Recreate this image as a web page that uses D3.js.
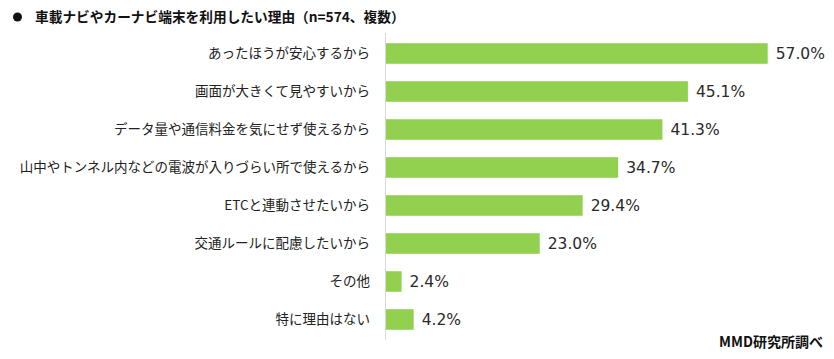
<!DOCTYPE html>
<html><head><meta charset="utf-8">
<script src="https://cdn.jsdelivr.net/npm/d3@7"></script>
<style>body{margin:0;background:#fff}svg{display:block}</style>
</head><body>
<script>
const categories = ["あったほうが安心するから","画面が大きくて見やすいから","データ量や通信料金を気にせず使えるから","山中やトンネル内などの電波が入りづらい所で使えるから","ETCと連動させたいから","交通ルールに配慮したいから","その他","特に理由はない"];
const values = [57.0,45.1,41.3,34.7,29.4,23.0,2.4,4.2];
const title = "車載ナビやカーナビ端末を利用したい理由（n=574、複数）";
const source = "MMD研究所調べ";

const W=834,H=359;
const svg=d3.select("body").append("svg").attr("width",W).attr("height",H);
const font="'Noto Sans CJK JP','Noto Sans',sans-serif";
const x0=385.5;
const x=d3.scaleLinear().domain([0,57]).range([x0,767.7]);
const y=d3.scaleBand().domain(categories).range([34.5,338.5]).paddingInner(0.46).paddingOuter(0.23);

svg.append("circle").attr("cx",17.5).attr("cy",17).attr("r",4.5).attr("fill","#111");
svg.append("text").attr("x",35).attr("y",22).attr("font-family",font).attr("font-weight","bold").attr("font-size",13.7).attr("fill","#111").text(title);

svg.selectAll("rect.bar").data(values).enter().append("rect").attr("class","bar")
 .attr("x",x0).attr("y",(d,i)=>y(categories[i])).attr("width",d=>x(d)-x0).attr("height",y.bandwidth()).attr("fill","#92d050");

svg.append("line").attr("x1",x0).attr("x2",x0).attr("y1",33).attr("y2",340).attr("stroke","#d9d9d9").attr("stroke-width",1);

svg.selectAll("text.cat").data(categories).enter().append("text").attr("class","cat")
 .attr("x",370).attr("y",d=>y(d)+y.bandwidth()/2).attr("dy","0.36em").attr("text-anchor","end")
 .attr("font-family",font).attr("font-size",13.5).attr("fill","#222").text(d=>d);

svg.selectAll("text.val").data(values).enter().append("text").attr("class","val")
 .attr("x",d=>x(d)+8).attr("y",(d,i)=>y(categories[i])+y.bandwidth()/2).attr("dy","0.36em")
 .attr("font-family","'DejaVu Sans',Verdana,sans-serif").attr("font-size",15.5).attr("fill","#2a2a2a").text(d=>d.toFixed(1)+"%");

svg.append("text").attr("x",823).attr("y",347).attr("text-anchor","end").attr("font-family",font).attr("font-weight","bold").attr("font-size",14).attr("fill","#111").text(source);
</script>
</body></html>
